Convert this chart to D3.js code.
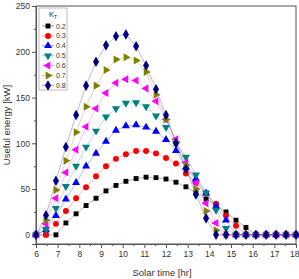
<!DOCTYPE html>
<html>
<head>
<meta charset="utf-8">
<script src="https://cdn.jsdelivr.net/npm/d3@7"></script>
<style>
  body { margin: 0; background: #fff; }
  svg { display: block; font-family: "Liberation Sans", Arial, sans-serif; }
</style>
</head>
<body>
<div id="chart"></div>
<script>
// solar time of each sample [hr]
var times = [6.00, 6.46, 6.92, 7.38, 7.85, 8.31, 8.77, 9.23, 9.69, 10.15, 10.62, 11.08, 11.54,
             12.00, 12.46, 12.92, 13.38, 13.85, 14.31, 14.77, 15.23, 15.69, 16.15, 16.62, 17.08, 17.54, 18.00];

// useful energy [kW] for each clearness index
var kt02 = [0, 0, 0, 13, 23, 32, 40, 48, 54, 58.5, 61.5, 63, 62.5, 61, 57.5, 52.5, 46, 39, 32, 25, 16, 8, 0, 0, 0, 0, 0];
var kt03 = [0, 0, 12, 26, 40, 52, 64, 75, 83, 88, 91.5, 91.5, 89, 84, 78, 67, 57, 45, 34, 21, 10, 0, 0, 0, 0, 0, 0];
var kt04 = [0, 5.5, 21, 39, 57, 75, 89, 102, 114, 119, 120, 117.5, 113, 104, 92, 74, 61, 45.5, 31, 16, 0, 0, 0, 0, 0, 0, 0];
var kt05 = [0, 6, 29, 53, 75, 96, 113.5, 129, 138, 144, 144.5, 140, 130, 117.5, 100, 85, 65.5, 46, 27, 7, 0, 0, 0, 0, 0, 0, 0];
var kt06 = [0, 12, 40, 68, 93, 118, 138, 155, 166, 170, 168.5, 160, 146, 126, 104.5, 79, 57, 34.5, 13, 0, 0, 0, 0, 0, 0, 0, 0];
var kt07 = [0, 16, 49, 81, 112, 140, 163, 180, 191.5, 194, 190.5, 178, 153, 126, 101, 76, 50, 26, 5, 0, 0, 0, 0, 0, 0, 0, 0];
var kt08 = [0, 21.5, 59, 96, 131, 163, 189, 207, 217, 219, 206, 185, 159, 131, 100, 72, 44, 18, 0, 0, 0, 0, 0, 0, 0, 0, 0];

var ktLabels = ["0.2", "0.3", "0.4", "0.5", "0.6", "0.7", "0.8"];
var xTicks = [6, 7, 8, 9, 10, 11, 12, 13, 14, 15, 16, 17, 18];
var yTicks = [0, 50, 100, 150, 200, 250];

var series = [
  { name: ktLabels[0], values: kt02, color: "#000000", shape: d3.symbolSquare,   size: 24, rot: 0 },
  { name: ktLabels[1], values: kt03, color: "#ff0000", shape: d3.symbolCircle,   size: 28, rot: 0 },
  { name: ktLabels[2], values: kt04, color: "#0000ff", shape: d3.symbolTriangle, size: 28, rot: 0 },
  { name: ktLabels[3], values: kt05, color: "#008080", shape: d3.symbolTriangle, size: 28, rot: 180 },
  { name: ktLabels[4], values: kt06, color: "#ff00ff", shape: d3.symbolTriangle, size: 28, rot: -90 },
  { name: ktLabels[5], values: kt07, color: "#808000", shape: d3.symbolTriangle, size: 28, rot: 90 },
  { name: ktLabels[6], values: kt08, color: "#000080", shape: d3.symbolDiamond,  size: 32, rot: 0 }
];

var width = 299, height = 279;
var margin = { top: 6, right: 3, bottom: 35, left: 36 };

var x = d3.scaleLinear().domain([6, 18]).range([margin.left, width - margin.right]);
var y = d3.scaleLinear().domain([-10, 250]).range([height - margin.bottom, margin.top]);

var svg = d3.select("#chart").append("svg")
  .attr("width", width)
  .attr("height", height);

// frame
svg.append("rect")
  .attr("x", x(6)).attr("y", y(250))
  .attr("width", x(18) - x(6)).attr("height", y(-10) - y(250))
  .attr("fill", "none").attr("stroke", "#555").attr("stroke-width", 1);

// x axis with minor ticks
var xAxis = svg.append("g")
  .attr("transform", "translate(0," + y(-10) + ")")
  .call(d3.axisBottom(x).tickValues(xTicks).tickSize(4).tickPadding(3).tickFormat(d3.format("d")));
svg.append("g")
  .attr("transform", "translate(0," + y(-10) + ")")
  .call(d3.axisBottom(x).tickValues(d3.range(6.5, 18, 1)).tickSize(2).tickFormat(""))
  .select(".domain").remove();

// keep the last label inside the window
xAxis.selectAll(".tick text")
  .filter(function(d) { return d === 18; })
  .attr("text-anchor", "end")
  .attr("x", 3);

// y axis with minor ticks
var yAxis = svg.append("g")
  .attr("transform", "translate(" + x(6) + ",0)")
  .call(d3.axisLeft(y).tickValues(yTicks).tickSize(4).tickPadding(2));
svg.append("g")
  .attr("transform", "translate(" + x(6) + ",0)")
  .call(d3.axisLeft(y).tickValues([25, 75, 125, 175, 225]).tickSize(2).tickFormat(""))
  .select(".domain").remove();

svg.selectAll(".domain").attr("stroke", "#555");
svg.selectAll(".tick line").attr("stroke", "#555");
svg.selectAll(".tick text").attr("font-size", 8.5).attr("fill", "#333");

// axis titles
svg.append("text")
  .attr("x", 162).attr("y", 276)
  .attr("text-anchor", "middle")
  .attr("font-size", 9.5).attr("fill", "#333")
  .text("Solar time [hr]");

svg.append("text")
  .attr("transform", "translate(10," + y(120) + ") rotate(-90)")
  .attr("text-anchor", "middle")
  .attr("font-size", 9.5).attr("fill", "#333")
  .text("Useful energy [kW]");

var line = d3.line()
  .x(function(d, i) { return x(times[i]); })
  .y(function(d) { return y(d); });

function symbolPath(s) {
  return d3.symbol().type(s.shape).size(s.size)();
}

// lines first, then markers (navy ends up on top)
series.forEach(function(s) {
  svg.append("path")
    .datum(s.values)
    .attr("d", line)
    .attr("fill", "none")
    .attr("stroke", s.color)
    .attr("stroke-opacity", 0.35)
    .attr("stroke-width", 0.8);
});

series.forEach(function(s) {
  svg.append("g").selectAll("path")
    .data(s.values)
    .enter()
    .append("path")
    .attr("d", symbolPath(s))
    .attr("transform", function(d, i) {
      return "translate(" + x(times[i]) + "," + y(d) + ") rotate(" + s.rot + ")";
    })
    .attr("fill", s.color);
});

// legend
var legend = svg.append("g").attr("transform", "translate(39,8)");
legend.append("rect")
  .attr("width", 28).attr("height", 82)
  .attr("fill", "#fff").attr("stroke", "#aaa").attr("stroke-width", 0.8);

var title = legend.append("text")
  .attr("x", 10).attr("y", 9)
  .attr("font-size", 7.5).attr("fill", "#222")
  .text("K");
title.append("tspan").attr("dy", 2).attr("font-size", 5).text("T");

series.forEach(function(s, i) {
  var row = legend.append("g").attr("transform", "translate(0," + (18 + i * 9.9) + ")");
  row.append("line")
    .attr("x1", 3).attr("x2", 15)
    .attr("stroke", s.color).attr("stroke-opacity", 0.5).attr("stroke-width", 0.8);
  row.append("path")
    .attr("d", symbolPath(s))
    .attr("transform", "translate(9,0) rotate(" + s.rot + ")")
    .attr("fill", s.color);
  row.append("text")
    .attr("x", 17).attr("y", 2.5)
    .attr("font-size", 7).attr("fill", "#333")
    .text(s.name);
});
</script>
</body>
</html>
